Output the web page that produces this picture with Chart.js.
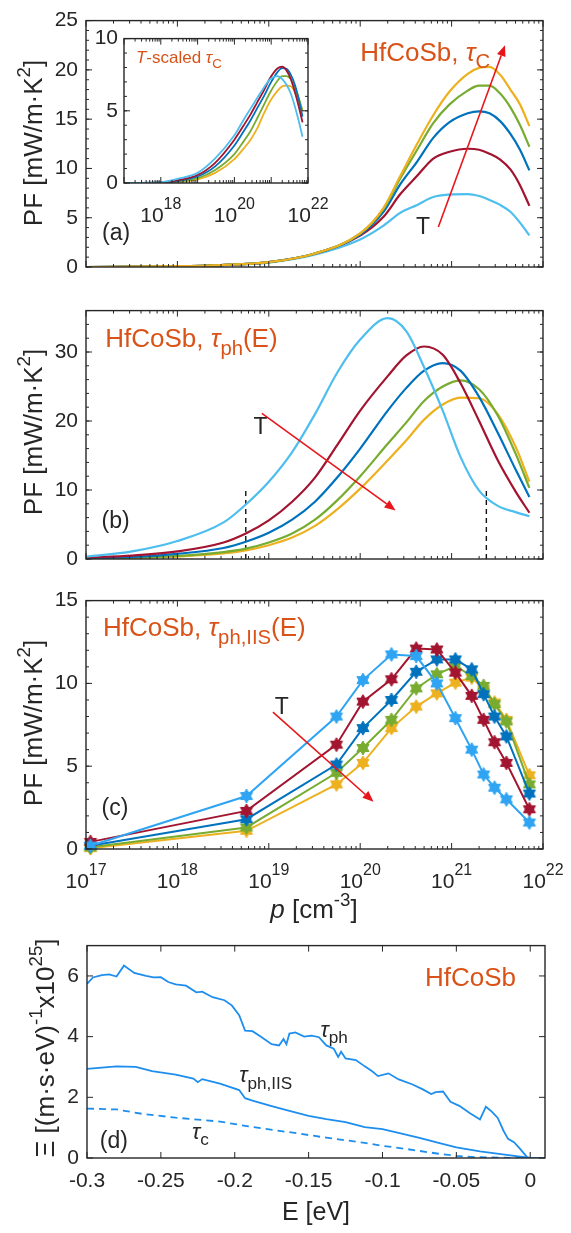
<!DOCTYPE html>
<html>
<head>
<meta charset="utf-8">
<script src="https://cdn.jsdelivr.net/npm/chart.js@4.4.1/dist/chart.umd.min.js"></script>
<style>
  html, body { margin: 0; padding: 0; background: #fff; }
  #fig { position: relative; width: 571px; height: 1233px; overflow: hidden; background: #fff; }
  #fig canvas { position: absolute; }
</style>
</head>
<body>
<div id="fig">
  <canvas id="cA" width="571" height="290" style="left:0;top:0"></canvas>
  <canvas id="cIn" width="300" height="210" style="left:60px;top:20px"></canvas>
  <canvas id="cB" width="571" height="290" style="left:0;top:290px"></canvas>
  <canvas id="cC" width="571" height="345" style="left:0;top:580px"></canvas>
  <canvas id="cD" width="571" height="308" style="left:0;top:925px"></canvas>
</div>
<script>
// ---------- data ----------
// (a) + inset : PF vs p, constant tau_C
const pA = [1e17, 1e18, 3e18, 1e19, 3e19, 1e20, 1.8e20, 2.75e20, 4.2e20, 6.3e20, 9.5e20, 1.5e21, 2e21, 2.6e21, 3.4e21, 4.4e21, 5.6e21, 7.1e21];
const a_T1 = [0, 0.07, 0.18, 0.45, 1.2, 2.8, 4.2, 5.5, 6.3, 7.1, 7.35, 7.4, 7.2, 6.8, 6.3, 5.6, 4.5, 3.2];
const a_T2 = [0, 0.08, 0.2, 0.5, 1.3, 3.2, 5.1, 7.4, 9.25, 11.0, 11.7, 12.0, 11.9, 11.5, 10.9, 9.9, 8.3, 6.2];
const a_T3 = [0, 0.08, 0.2, 0.5, 1.3, 3.3, 5.6, 8.4, 10.7, 13.1, 14.7, 15.6, 15.8, 15.6, 14.8, 13.5, 11.9, 9.8];
const a_T4 = [0, 0.08, 0.2, 0.5, 1.3, 3.4, 5.9, 9.0, 11.9, 14.6, 16.5, 17.9, 18.4, 18.4, 17.6, 16.2, 14.4, 12.2];
const a_T5 = [0, 0.08, 0.2, 0.5, 1.3, 3.4, 6.0, 9.25, 12.5, 15.4, 17.8, 19.6, 20.2, 20.3, 19.5, 18.0, 16.5, 14.3];

const in_T1 = [0, 0.06, 0.3, 0.7, 1.7, 3.3, 4.4, 5.15, 5.9, 6.6, 7.2, 7.4, 7.2, 6.8, 6.2, 5.3, 4.3, 3.2];
const in_T2 = [0, 0.04, 0.2, 0.55, 1.4, 3.0, 4.0, 4.75, 5.6, 6.4, 7.3, 7.95, 8.05, 7.8, 7.2, 6.3, 5.3, 4.2];
const in_T3 = [0, 0.03, 0.15, 0.45, 1.15, 2.6, 3.6, 4.35, 5.2, 6.0, 6.9, 7.7, 7.95, 7.9, 7.5, 6.8, 5.8, 4.6];
const in_T4 = [0, 0.02, 0.1, 0.33, 0.9, 2.0, 2.9, 3.6, 4.5, 5.4, 6.3, 7.1, 7.4, 7.4, 7.2, 6.6, 5.9, 5.0];
const in_T5 = [0, 0.01, 0.08, 0.25, 0.7, 1.65, 2.4, 3.0, 3.8, 4.8, 5.7, 6.4, 6.7, 6.75, 6.7, 6.3, 5.7, 5.0];

// (b) : tau_ph(E)
const pB = [1e17, 3.2e17, 1e18, 3.2e18, 5.6e18, 1e19, 1.8e19, 3.2e19, 5.6e19, 1e20, 2e20, 3.2e20, 5e20, 8e20, 1.25e21, 2e21, 3.2e21, 5e21, 7.1e21];
const b_T1 = [0.35, 1.1, 2.6, 5.3, 7.9, 11.2, 15.5, 21, 27, 31.8, 34.9, 33, 27.8, 21.5, 14.8, 9.9, 7.7, 6.8, 6.2];
const b_T2 = [0.2, 0.5, 1.1, 2.4, 3.7, 5.6, 8.3, 11.8, 16.5, 21.5, 26.5, 29.5, 30.8, 29.6, 25.5, 20, 14.3, 9.8, 6.7];
const b_T3 = [0.1, 0.3, 0.75, 1.6, 2.5, 3.8, 5.7, 8.3, 11.8, 16, 21.5, 24.8, 27.3, 28.4, 27.3, 23.5, 18.3, 13, 9.0];
const b_T4 = [0.05, 0.2, 0.45, 1.0, 1.5, 2.4, 3.7, 5.7, 8.5, 12, 16.7, 19.8, 22.9, 25, 25.9, 24.6, 20.8, 15.3, 10.3];
const b_T5 = [0.03, 0.15, 0.35, 0.8, 1.25, 2.0, 3.1, 4.8, 7.2, 10.2, 14.3, 17.2, 20.2, 22.4, 23.4, 23.3, 21, 16.3, 11.2];
const bMarkP = [5.6e18, 2.4e21];
const bMarkPF = [0, 10];

// (c) : tau_ph,IIS(E), computed points
const pC = [1.12e17, 5.7e18, 5.5e19, 1.07e20, 2.2e20, 4.1e20, 6.9e20, 1.1e21, 1.66e21, 2.24e21, 2.95e21, 3.98e21, 7.1e21];
const c_T1 = [0.2, 3.2, 8.0, 10.2, 11.75, 11.65, 10.0, 7.9, 6.0, 4.5, 3.7, 3.0, 1.6];
const c_T2 = [0.43, 2.3, 6.3, 8.9, 10.25, 12.1, 12.05, 10.65, 9.25, 7.8, 6.45, 5.2, 2.4];
const c_T3 = [0.2, 1.8, 5.1, 7.3, 9.0, 10.7, 11.45, 11.45, 10.85, 9.35, 8.0, 6.8, 3.35];
const c_T4 = [0.1, 1.3, 4.6, 6.1, 7.8, 9.7, 10.55, 11.05, 10.45, 9.85, 8.75, 7.7, 3.9];
const c_T5 = [0.05, 1.1, 3.9, 5.2, 7.3, 8.6, 9.4, 10.05, 10.35, 9.65, 8.85, 7.8, 4.45];

// (d) : transport function Xi(E)
const dTicks = [-0.3, -0.25, -0.2, -0.15, -0.1, -0.05, 0];
const dE_ph = [-0.3, -0.296, -0.29, -0.285, -0.28, -0.275, -0.268, -0.26, -0.255, -0.25, -0.245, -0.24, -0.233, -0.226, -0.222, -0.215, -0.207, -0.202, -0.197, -0.193, -0.188, -0.183, -0.175, -0.17, -0.167, -0.165, -0.163, -0.159, -0.153, -0.148, -0.143, -0.138, -0.133, -0.13, -0.128, -0.125, -0.118, -0.112, -0.107, -0.103, -0.096, -0.089, -0.08, -0.073, -0.067, -0.064, -0.059, -0.054, -0.048, -0.041, -0.034, -0.03, -0.026, -0.022, -0.018, -0.015, -0.011, -0.007, -0.002, 0, 0.01];
const d_ph = [5.74, 5.95, 6.03, 6.05, 5.98, 6.34, 6.1, 6.0, 5.95, 5.96, 5.8, 5.72, 5.68, 5.46, 5.48, 5.3, 5.2, 5.03, 4.71, 4.2, 4.18, 4.02, 3.75, 3.71, 3.92, 3.75, 4.1, 4.14, 4.0, 4.03, 3.98, 3.71, 3.6, 3.33, 3.5, 3.28, 3.23, 3.02, 2.86, 2.7, 2.79, 2.59, 2.43, 2.27, 2.11, 2.17, 2.19, 1.85, 1.72, 1.48, 1.27, 1.69, 1.53, 1.32, 0.89, 0.63, 0.52, 0.31, 0.02, 0, 0];
const dE_iis = [-0.3, -0.28, -0.267, -0.256, -0.24, -0.228, -0.225, -0.222, -0.21, -0.197, -0.193, -0.188, -0.175, -0.163, -0.15, -0.138, -0.125, -0.112, -0.1, -0.087, -0.075, -0.062, -0.05, -0.034, -0.016, 0, 0.01];
const d_iis = [2.94, 3.02, 3.0, 2.86, 2.75, 2.62, 2.5, 2.6, 2.45, 2.24, 1.97, 1.89, 1.71, 1.55, 1.39, 1.28, 1.18, 1.02, 0.95, 0.8, 0.66, 0.5, 0.35, 0.22, 0.1, 0, 0];
const dE_c = [-0.3, -0.28, -0.262, -0.24, -0.21, -0.188, -0.163, -0.138, -0.112, -0.1, -0.087, -0.062, -0.05, -0.037, -0.02, 0, 0.01];
const d_c = [1.63, 1.6, 1.45, 1.33, 1.2, 1.02, 0.85, 0.67, 0.5, 0.4, 0.32, 0.14, 0.07, 0.03, 0.01, 0, 0];

// ---------- style ----------
const FAM = '"Liberation Sans", Arial, Helvetica, sans-serif';
const INK = '#262626';
const ORANGE = '#D95319';
const RED = '#E8161B';
const COLS = ['#4DBEEE', '#A2142F', '#0072BD', '#77AC30', '#EDB120'];
const COLS_C = ['#2FA4F2', '#A2142F', '#0072BD', '#77AC30', '#EDB120'];
const XI_BLUE = '#1E8EEE';

// rich text: parts = [[text, style]], style: '', 'it', 'sub', 'sup', 'hi'
function rich(ctx, parts, x, y, size, color, align, rot) {
  ctx.save();
  ctx.translate(x, y);
  if (rot) ctx.rotate(rot);
  ctx.fillStyle = color;
  ctx.textBaseline = 'alphabetic';
  ctx.textAlign = 'left';
  const segs = parts.map(p => {
    const t = p[0], st = p[1] || '';
    let fs = size, dy = 0;
    if (st === 'sub') { fs = size * 0.78; dy = size * 0.3; }
    if (st === 'sup') { fs = size * 0.72; dy = -size * 0.45; }
    if (st === 'hi') { fs = size * 0.76; dy = -size * 0.62; }
    const font = (st === 'it' ? 'italic ' : '') + fs + 'px ' + FAM;
    ctx.font = font;
    return { t, font, dy, w: ctx.measureText(t).width };
  });
  const total = segs.reduce((s, g) => s + g.w, 0);
  let cx = align === 'center' ? -total / 2 : (align === 'right' ? -total : 0);
  segs.forEach(g => { ctx.font = g.font; ctx.fillText(g.t, cx, g.dy); cx += g.w; });
  ctx.restore();
}

function arrow(ctx, x1, y1, x2, y2) {
  const ang = Math.atan2(y2 - y1, x2 - x1), L = 11, W = 4.5;
  const bx = x2 - L * Math.cos(ang), by = y2 - L * Math.sin(ang);
  ctx.strokeStyle = RED; ctx.fillStyle = RED; ctx.lineWidth = 1.6;
  ctx.beginPath(); ctx.moveTo(x1, y1); ctx.lineTo(bx, by); ctx.stroke();
  ctx.beginPath();
  ctx.moveTo(x2, y2);
  ctx.lineTo(bx + W * Math.sin(ang), by - W * Math.cos(ang));
  ctx.lineTo(bx - W * Math.sin(ang), by + W * Math.cos(ang));
  ctx.closePath(); ctx.fill();
}

// annotation specs per canvas
const SPEC = {
  cA: {
    logX: true, minorY: 1,
    ytitle: { parts: [['PF [mW/m·K'], ['2', 'sup'], [']']], x: 42, y: 143, size: 26 },
    texts: [
      { parts: [['HfCoSb, '], ['τ', 'it'], ['C', 'sub']], fx: 0.6, fy: 0.162, size: 26, color: ORANGE },
      { parts: [['(a)']], fx: 0.035, fy: 0.889, size: 23, color: INK }
    ],
    dtexts: [{ parts: [['T']], x: 4.07e20, y: 3.3, size: 23, color: INK }],
    arrows: [[7.16e20, 4.05, 3.84e21, 22.5]]
  },
  cIn: {
    bg: true, logX: true, minorY: 1,
    logLabels: { exps: [18, 20, 22], base: 39 },
    texts: [{ parts: [['T', 'it'], ['-scaled '], ['τ', 'it'], ['C', 'sub']], fx: 0.065, fy: 0.166, size: 17, color: ORANGE }]
  },
  cB: {
    logX: true, minorY: 2,
    ytitle: { parts: [['PF [mW/m·K'], ['2', 'sup'], [']']], x: 42, y: 142, size: 26 },
    texts: [
      { parts: [['HfCoSb, '], ['τ', 'it'], ['ph', 'sub'], ['(E)']], fx: 0.042, fy: 0.146, size: 26, color: ORANGE },
      { parts: [['(b)']], fx: 0.034, fy: 0.874, size: 23, color: INK }
    ],
    dtexts: [{ parts: [['T']], x: 6.8e18, y: 18.1, size: 23, color: INK }],
    arrows: [[8.4e18, 21.1, 2.44e20, 7.04]]
  },
  cC: {
    logX: true, minorY: 1,
    logLabels: { exps: [17, 18, 19, 20, 21, 22], base: 39 },
    ytitle: { parts: [['PF [mW/m·K'], ['2', 'sup'], [']']], x: 42, y: 143, size: 26 },
    xtitle: { parts: [['p', 'it'], [' [cm'], ['-3', 'sup'], [']']], x: 314, y: 338, size: 26 },
    texts: [
      { parts: [['HfCoSb, '], ['τ', 'it'], ['ph,IIS', 'sub'], ['(E)']], fx: 0.037, fy: 0.143, size: 26, color: ORANGE },
      { parts: [['(c)']], fx: 0.034, fy: 0.865, size: 23, color: INK }
    ],
    dtexts: [{ parts: [['T']], x: 1.16e19, y: 8.15, size: 23, color: INK }],
    arrows: [[1.11e19, 8.27, 1.4e20, 2.85]]
  },
  cD: {
    minorY: 0,
    ytitle: { parts: [['Ξ '], ['[(m·s·eV)'], ['-1', 'sup'], ['x10'], ['25', 'sup'], [']']], x: 54, y: 123, size: 26 },
    xtitle: { parts: [['E [eV]']], x: 316, y: 295, size: 25 },
    texts: [
      { parts: [['HfCoSb']], fx: 0.738, fy: 0.19, size: 26, color: ORANGE },
      { parts: [['(d)']], fx: 0.028, fy: 0.955, size: 23, color: INK }
    ],
    dtexts: [
      { parts: [['τ', 'it'], ['ph', 'sub']], x: -0.142, y: 4.0, size: 22, color: INK },
      { parts: [['τ', 'it'], ['ph,IIS', 'sub']], x: -0.197, y: 2.49, size: 22, color: INK },
      { parts: [['τ', 'it'], ['c', 'sub']], x: -0.229, y: 0.64, size: 22, color: INK }
    ]
  }
};

const figPlugin = {
  id: 'fig',
  beforeDraw(chart) {
    const sp = SPEC[chart.canvas.id], a = chart.chartArea;
    if (sp.bg) {
      const c = chart.ctx;
      c.save(); c.fillStyle = '#fff';
      c.fillRect(a.left, a.top, a.right - a.left, a.bottom - a.top);
      c.restore();
    }
  },
  afterDraw(chart) {
    const sp = SPEC[chart.canvas.id], ctx = chart.ctx, a = chart.chartArea;
    const x = chart.scales.x, y = chart.scales.y;
    ctx.save();
    // box
    ctx.strokeStyle = INK; ctx.lineWidth = 1.4;
    ctx.strokeRect(a.left, a.top, a.right - a.left, a.bottom - a.top);
    // inward ticks, all four sides
    const xt = [], yt = [];
    if (sp.logX) {
      for (let e = Math.floor(Math.log10(x.min)); e <= Math.ceil(Math.log10(x.max)); e++) {
        for (let k = 1; k < 10; k++) {
          const v = k * Math.pow(10, e);
          if (v >= x.min * 0.999 && v <= x.max * 1.001) xt.push([x.getPixelForValue(v), k === 1 ? 6 : 3]);
        }
      }
    } else {
      x.ticks.forEach(t => xt.push([x.getPixelForValue(t.value), 6]));
    }
    if (sp.minorY) {
      const n = Math.round((y.max - y.min) / sp.minorY);
      for (let i = 0; i <= n; i++) yt.push([y.getPixelForValue(y.min + i * sp.minorY), 3]);
    }
    y.ticks.forEach(t => yt.push([y.getPixelForValue(t.value), 6]));
    ctx.lineWidth = 1;
    ctx.beginPath();
    xt.forEach(([px, L]) => {
      ctx.moveTo(px, a.bottom); ctx.lineTo(px, a.bottom - L);
      ctx.moveTo(px, a.top); ctx.lineTo(px, a.top + L);
    });
    yt.forEach(([py, L]) => {
      ctx.moveTo(a.left, py); ctx.lineTo(a.left + L, py);
      ctx.moveTo(a.right, py); ctx.lineTo(a.right - L, py);
    });
    ctx.stroke();

    // 10^n labels for log axes
    if (sp.logLabels) {
      sp.logLabels.exps.forEach(e => {
        const px = x.getPixelForValue(Math.pow(10, e));
        rich(ctx, [['10'], [String(e), 'hi']], px, a.bottom + sp.logLabels.base, 21, INK, 'center');
      });
    }
    if (sp.ytitle) rich(ctx, sp.ytitle.parts, sp.ytitle.x, sp.ytitle.y, sp.ytitle.size, INK, 'center', -Math.PI / 2);
    if (sp.xtitle) rich(ctx, sp.xtitle.parts, sp.xtitle.x, sp.xtitle.y, sp.xtitle.size, INK, 'center');
    (sp.texts || []).forEach(t => {
      rich(ctx, t.parts, a.left + t.fx * (a.right - a.left), a.top + t.fy * (a.bottom - a.top), t.size, t.color, 'left');
    });
    (sp.dtexts || []).forEach(t => {
      rich(ctx, t.parts, x.getPixelForValue(t.x), y.getPixelForValue(t.y), t.size, t.color, 'left');
    });
    (sp.arrows || []).forEach(r => {
      arrow(ctx, x.getPixelForValue(r[0]), y.getPixelForValue(r[1]), x.getPixelForValue(r[2]), y.getPixelForValue(r[3]));
    });
    ctx.restore();
  }
};

// hexagram marker as canvas point style
function hexagram(color, r) {
  const s = Math.ceil(r * 2 + 4);
  const c = document.createElement('canvas');
  c.width = c.height = s;
  const g = c.getContext('2d');
  g.translate(s / 2, s / 2);
  g.fillStyle = color; g.strokeStyle = color; g.lineWidth = 1;
  g.beginPath();
  for (let i = 0; i < 12; i++) {
    const ang = -Math.PI / 2 + i * Math.PI / 6;
    const rr = i % 2 === 0 ? r : r * 0.577;
    g.lineTo(rr * Math.cos(ang), rr * Math.sin(ang));
  }
  g.closePath(); g.fill(); g.stroke();
  return c;
}

function lineSet(xs, ys, color, extra) {
  return Object.assign({
    data: xs.map((v, i) => ({ x: v, y: ys[i] })),
    borderColor: color, backgroundColor: color,
    borderWidth: 2.2, pointRadius: 0, fill: false,
    cubicInterpolationMode: 'monotone'
  }, extra || {});
}

function logX() {
  return {
    type: 'logarithmic', min: 1e17, max: 1e22,
    grid: { display: false, drawTicks: false }, border: { display: false },
    ticks: { display: false }
  };
}

function linY(max, step, pad) {
  return {
    type: 'linear', min: 0, max: max,
    grid: { display: false, drawTicks: false }, border: { display: false },
    ticks: { stepSize: step, includeBounds: false, padding: pad, color: INK, font: { family: FAM, size: 21 } }
  };
}

function panel(id, area, xScale, yScale, datasets) {
  const cv = document.getElementById(id);
  const W = cv.width, H = cv.height;
  return new Chart(cv, {
    type: 'line',
    data: { datasets },
    options: {
      responsive: false, animation: false, devicePixelRatio: 1,
      layout: { padding: { left: 0, top: area.t, right: W - area.r, bottom: 0 } },
      plugins: { legend: { display: false }, tooltip: { enabled: false } },
      scales: {
        x: Object.assign({ afterFit: s => { s.height = H - area.b; } }, xScale),
        y: Object.assign({ afterFit: s => { s.width = area.l; } }, yScale)
      }
    },
    plugins: [figPlugin]
  });
}

// (a)
panel('cA', { l: 86, t: 14, r: 543, b: 267 }, logX(), linY(25, 5, 8), [
  lineSet(pA, a_T5, COLS[4]), lineSet(pA, a_T4, COLS[3]), lineSet(pA, a_T3, COLS[2]),
  lineSet(pA, a_T2, COLS[1]), lineSet(pA, a_T1, COLS[0])
]);

// inset
panel('cIn', { l: 64, t: 18, r: 248, b: 163 }, logX(), linY(10, 5, 6), [
  lineSet(pA, in_T1, COLS[0], { borderWidth: 1.8 }), lineSet(pA, in_T2, COLS[1], { borderWidth: 1.8 }),
  lineSet(pA, in_T3, COLS[2], { borderWidth: 1.8 }), lineSet(pA, in_T4, COLS[3], { borderWidth: 1.8 }),
  lineSet(pA, in_T5, COLS[4], { borderWidth: 1.8 })
]);

// (b)
panel('cB', { l: 86, t: 15, r: 543, b: 269 }, logX(), linY(36, 10, 8), [
  lineSet(pB, b_T1, COLS[0]), lineSet(pB, b_T2, COLS[1]), lineSet(pB, b_T3, COLS[2]),
  lineSet(pB, b_T4, COLS[3]), lineSet(pB, b_T5, COLS[4]),
  lineSet([bMarkP[0], bMarkP[0]], bMarkPF, '#111', { borderWidth: 1.4, borderDash: [5, 4], cubicInterpolationMode: 'default', tension: 0 }),
  lineSet([bMarkP[1], bMarkP[1]], bMarkPF, '#111', { borderWidth: 1.4, borderDash: [5, 4], cubicInterpolationMode: 'default', tension: 0 })
]);

// (c)
const cSeries = [c_T1, c_T2, c_T3, c_T4, c_T5];
panel('cC', { l: 86, t: 17, r: 543, b: 269 }, logX(), linY(15, 5, 8),
  cSeries.map((ys, i) => lineSet(pC, ys, COLS_C[i], {
    borderWidth: 2, cubicInterpolationMode: 'default', tension: 0,
    pointRadius: 7, pointStyle: hexagram(COLS_C[i], 7), clip: false
  }))
);

// (d)
panel('cD', { l: 87, t: 13, r: 545, b: 233 }, {
  type: 'linear', min: -0.3, max: 0.01,
  grid: { display: false, drawTicks: false }, border: { display: false },
  afterBuildTicks: s => { s.ticks = dTicks.map(v => ({ value: v })); },
  ticks: {
    padding: 11, autoSkip: false, maxRotation: 0, color: INK, font: { family: FAM, size: 21 },
    callback: v => String(Math.round(v * 100) / 100)
  }
}, linY(7, 2, 8), [
  lineSet(dE_ph, d_ph, XI_BLUE, { borderWidth: 1.8, cubicInterpolationMode: 'default', tension: 0 }),
  lineSet(dE_iis, d_iis, XI_BLUE, { borderWidth: 1.8, cubicInterpolationMode: 'default', tension: 0 }),
  lineSet(dE_c, d_c, XI_BLUE, { borderWidth: 1.8, borderDash: [7, 5], cubicInterpolationMode: 'default', tension: 0 })
]);
</script>
</body>
</html>
